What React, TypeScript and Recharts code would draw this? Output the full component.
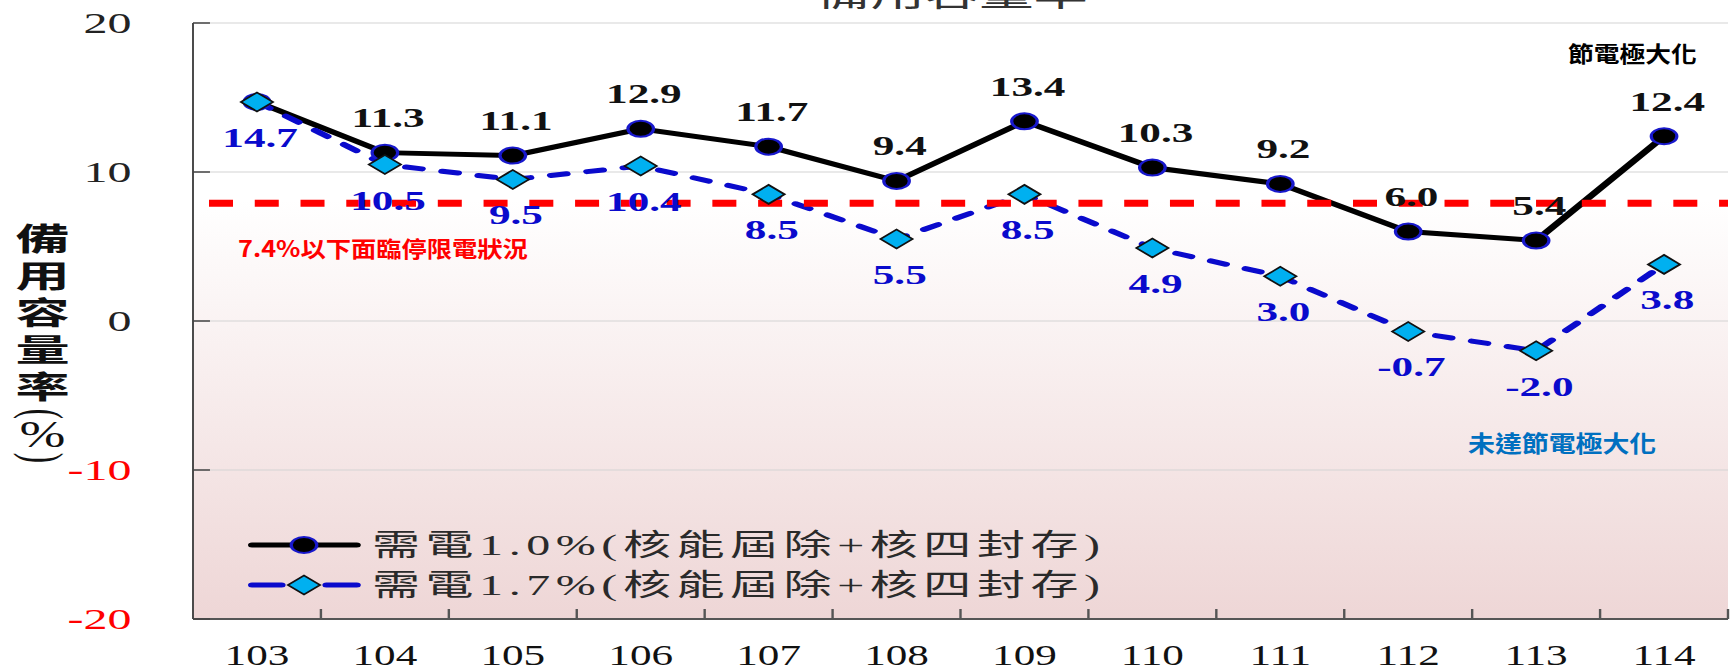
import React from 'react';
import { LineChart, Line, XAxis, YAxis, CartesianGrid, ReferenceLine, LabelList, Legend } from 'recharts';

// ---------- data ----------
const YEARS = ['103', '104', '105', '106', '107', '108', '109', '110', '111', '112', '113', '114'];
const DEMAND_10 = [14.7, 11.3, 11.1, 12.9, 11.7, 9.4, 13.4, 10.3, 9.2, 6.0, 5.4, 12.4];
const DEMAND_17 = [14.7, 10.5, 9.5, 10.4, 8.5, 5.5, 8.5, 4.9, 3.0, -0.7, -2.0, 3.8];
const Y_TICKS = [-20, -10, 0, 10, 20];
const THRESHOLD = 7.9;
const SERIES_NAMES = ['需電1.0%(核能屆除+核四封存)', '需電1.7%(核能屆除+核四封存)'];
const TITLE = '備用容量率';
const Y_TITLE = '備用容量率';
const NOTE_RED = '7.4%以下面臨停限電狀況';
const NOTE_TOP = '節電極大化';
const NOTE_BOTTOM = '未達節電極大化';

const data = YEARS.map((year, i) => ({
  year,
  s1: DEMAND_10[i],
  s2: DEMAND_17[i],
  // first point of series 1 coincides with series 2, only one label is shown there
  lab1: i === 0 ? null : DEMAND_10[i],
  lab2: DEMAND_17[i],
}));

// ---------- layout ----------
const S = 1.6; // the reference is horizontally stretched
const PAGE_W = 1731;
const PAGE_H = 672;
const CHART_W = PAGE_W / S;
const PLOT_LEFT = 193 / S;
const PLOT_RIGHT = 1728 / S;
const PLOT_TOP = 23;
const PLOT_BOTTOM = 619;
const BAND = (PLOT_RIGHT - PLOT_LEFT) / YEARS.length;

const SERIF = "'Liberation Serif', 'Times New Roman', 'DejaVu Serif', serif";
const CJK = "'Noto Sans CJK TC', 'Noto Sans CJK SC', sans-serif";
const MIXED = "'Liberation Serif', 'Noto Sans CJK TC', serif";

const BLUE = '#0A0ACC';
const CYAN = '#00B0F0';

const CircleDot = (p: any) => {
  if (p.cx == null || p.cy == null) return <g key={`c${p.index}`} />;
  return <circle key={`c${p.index}`} cx={p.cx} cy={p.cy} r={8} fill="#000" stroke="#1818cc" strokeWidth={2} />;
};

const DiamondDot = (p: any) => {
  if (p.cx == null || p.cy == null) return <g key={`d${p.index}`} />;
  const { cx, cy } = p;
  return (
    <path
      key={`d${p.index}`}
      d={`M${cx},${cy - 9.5} L${cx + 10},${cy} L${cx},${cy + 9.5} L${cx - 10},${cy} Z`}
      fill={CYAN}
      stroke="#111"
      strokeWidth={1.5}
    />
  );
};

const makeLabel = (color: string, dy: number) => (props: any) => {
  const { value } = props;
  if (value == null) return null;
  const vb = props.viewBox || {};
  const x = (vb.x ?? props.x) + (vb.width || 0) / 2;
  const y = (vb.y ?? props.y) + (vb.height || 0) / 2;
  return (
    <text
      key={`lab-${props.index}-${color}`}
      x={x + 2}
      y={y + dy}
      textAnchor="middle"
      fontFamily={SERIF}
      fontWeight="bold"
      fontSize={27}
      fill={color}
    >
      {Number(value).toFixed(1)}
    </text>
  );
};

const YTick = (p: any) => {
  const { y, payload } = p;
  const v = payload.value;
  return (
    <g>
      <line x1={PLOT_LEFT} x2={PLOT_LEFT + 10.6} y1={y} y2={y} stroke="#444" strokeWidth={1.5} />
      <text
        x={PLOT_LEFT - 38.5}
        y={y}
        dy="0.34em"
        textAnchor="end"
        fontFamily={SERIF}
        fontSize={30}
        fill={v < 0 ? '#FF0000' : '#222'}
      >
        {v}
      </text>
    </g>
  );
};

const XTick = (p: any) => {
  const { x, payload } = p;
  return (
    <g>
      <line x1={x + BAND / 2} x2={x + BAND / 2} y1={PLOT_BOTTOM} y2={PLOT_BOTTOM - 10} stroke="#555" strokeWidth={1.5} />
      <text
        transform={`translate(${x},${PLOT_BOTTOM + 46}) scale(0.9,1)`}
        textAnchor="middle"
        fontFamily={SERIF}
        fontSize={30}
        fill="#111"
      >
        {payload.value}
      </text>
    </g>
  );
};

const LegendContent = (props: any) => {
  const items = props.payload || [];
  return (
    <svg width={600} height={90} style={{ overflow: 'visible', display: 'block' }}>
      {items.map((it: any, i: number) => {
        const key = it.dataKey ?? (i === 0 ? 's1' : 's2');
        const first = key === 's1';
        const cy = first ? 25 : 65;
        return (
          <g key={key}>
            {first ? (
              <>
                <line x1={7.5} x2={73} y1={cy} y2={cy} stroke="#000" strokeWidth={5} strokeLinecap="round" />
                <circle cx={40} cy={cy} r={8} fill="#000" stroke="#1818cc" strokeWidth={2} />
              </>
            ) : (
              <>
                <line x1={7.5} x2={26} y1={cy} y2={cy} stroke={BLUE} strokeWidth={5} strokeLinecap="round" />
                <line x1={54} x2={73} y1={cy} y2={cy} stroke={BLUE} strokeWidth={5} strokeLinecap="round" />
                <path
                  d={`M40,${cy - 9.5} L50,${cy} L40,${cy + 9.5} L30,${cy} Z`}
                  fill={CYAN}
                  stroke="#111"
                  strokeWidth={1.5}
                />
              </>
            )}
            <text
              x={82.5}
              y={cy + 10}
              fontFamily={MIXED}
              fontSize={30}
              fill="#2a2a2a"
              textLength={455}
              lengthAdjust="spacing"
            >
              {it.value}
            </text>
          </g>
        );
      })}
    </svg>
  );
};

export default function App() {
  return (
    <div
      style={{
        position: 'absolute',
        left: 0,
        top: 0,
        width: PAGE_W,
        height: PAGE_H,
        overflow: 'hidden',
        background: '#fff',
      }}
    >
      <svg width={0} height={0} style={{ position: 'absolute' }}>
        <defs>
          <linearGradient id="plotBg" x1="0" y1="0" x2="0" y2="1">
            <stop offset={0.297} stopColor="#ffffff" />
            <stop offset={1} stopColor="#eed6d6" />
          </linearGradient>
        </defs>
      </svg>
      <div
        style={{
          position: 'absolute',
          left: 0,
          top: 0,
          width: CHART_W,
          height: PAGE_H,
          transform: `scaleX(${S})`,
          transformOrigin: '0 0',
        }}
      >
        <LineChart
          width={CHART_W}
          height={PAGE_H}
          data={data}
          margin={{ top: PLOT_TOP, right: CHART_W - PLOT_RIGHT, bottom: 0, left: 0 }}
        >
          <CartesianGrid
            vertical={false}
            stroke="#d4d4d4"
            strokeWidth={1.2}
            fill="url(#plotBg)"
            fillOpacity={1}
          />
          <XAxis
            dataKey="year"
            scale="band"
            interval={0}
            height={PAGE_H - PLOT_BOTTOM}
            tickLine={false}
            tickSize={0}
            tickMargin={0}
            axisLine={{ stroke: '#555', strokeWidth: 2 }}
            tick={XTick}
          />
          <YAxis
            type="number"
            domain={[-20, 20]}
            ticks={Y_TICKS}
            interval={0}
            width={PLOT_LEFT}
            tickLine={false}
            tickSize={0}
            tickMargin={0}
            axisLine={{ stroke: '#444', strokeWidth: 1.2 }}
            tick={YTick}
          />
          <Legend
            layout="horizontal"
            verticalAlign="middle"
            align="center"
            wrapperStyle={{ position: 'absolute', left: 150, top: 520, width: 600, height: 90 }}
            content={LegendContent}
          />
          <Line
            type="linear"
            dataKey="s1"
            name={SERIES_NAMES[0]}
            stroke="#000"
            strokeWidth={5}
            dot={CircleDot}
            activeDot={false}
            isAnimationActive={false}
          >
            <LabelList dataKey="lab1" content={makeLabel('#111', -25.5)} />
          </Line>
          <Line
            type="linear"
            dataKey="s2"
            name={SERIES_NAMES[1]}
            stroke={BLUE}
            strokeWidth={5}
            strokeDasharray="10 13"
            strokeLinecap="round"
            dot={DiamondDot}
            activeDot={false}
            isAnimationActive={false}
          >
            <LabelList dataKey="lab2" content={makeLabel(BLUE, 45)} />
          </Line>
          <ReferenceLine
            y={THRESHOLD}
            stroke="#FF0000"
            strokeWidth={7}
            strokeDasharray="0 10 15 3.6"
          />
        </LineChart>
      </div>
      <svg
        width={PAGE_W}
        height={PAGE_H}
        style={{ position: 'absolute', left: 0, top: 0, pointerEvents: 'none' }}
      >
        <text
          transform={`translate(952,6) scale(1.6,1)`}
          textAnchor="middle"
          fontFamily={CJK}
          fontSize={34}
          fill="#333"
        >
          {TITLE}
        </text>
        <text
          transform="translate(42.5,223) scale(1.75,1)"
          writingMode="tb"
          style={{ writingMode: 'vertical-rl' } as any}
          fontFamily={CJK}
          fontWeight="bold"
          fontSize={31}
          letterSpacing={6}
          fill="#111"
        >
          {Y_TITLE}
        </text>
        <text
          transform="translate(42.5,414) scale(1.75,1) rotate(90)"
          textAnchor="middle"
          dominantBaseline="central"
          fontFamily={SERIF}
          fontSize={31}
          fill="#111"
        >
          (
        </text>
        <text
          transform="translate(42.5,434) scale(1.45,1)"
          textAnchor="middle"
          dominantBaseline="central"
          fontFamily={SERIF}
          fontSize={38}
          fill="#111"
        >
          %
        </text>
        <text
          transform="translate(42.5,458) scale(1.75,1) rotate(90)"
          textAnchor="middle"
          dominantBaseline="central"
          fontFamily={SERIF}
          fontSize={31}
          fill="#111"
        >
          )
        </text>
        <text
          transform="translate(238,256.5) scale(1.15,1)"
          fontFamily={CJK}
          fontWeight="bold"
          fontSize={22}
          fill="#FF0000"
        >
          {NOTE_RED}
        </text>
        <text
          transform="translate(1568,61.5) scale(1.17,1)"
          fontFamily={CJK}
          fontWeight="bold"
          fontSize={22}
          fill="#000"
        >
          {NOTE_TOP}
        </text>
        <text
          transform="translate(1468,452) scale(1.17,1)"
          fontFamily={CJK}
          fontWeight="bold"
          fontSize={23}
          fill="#0070C0"
        >
          {NOTE_BOTTOM}
        </text>
      </svg>
    </div>
  );
}
